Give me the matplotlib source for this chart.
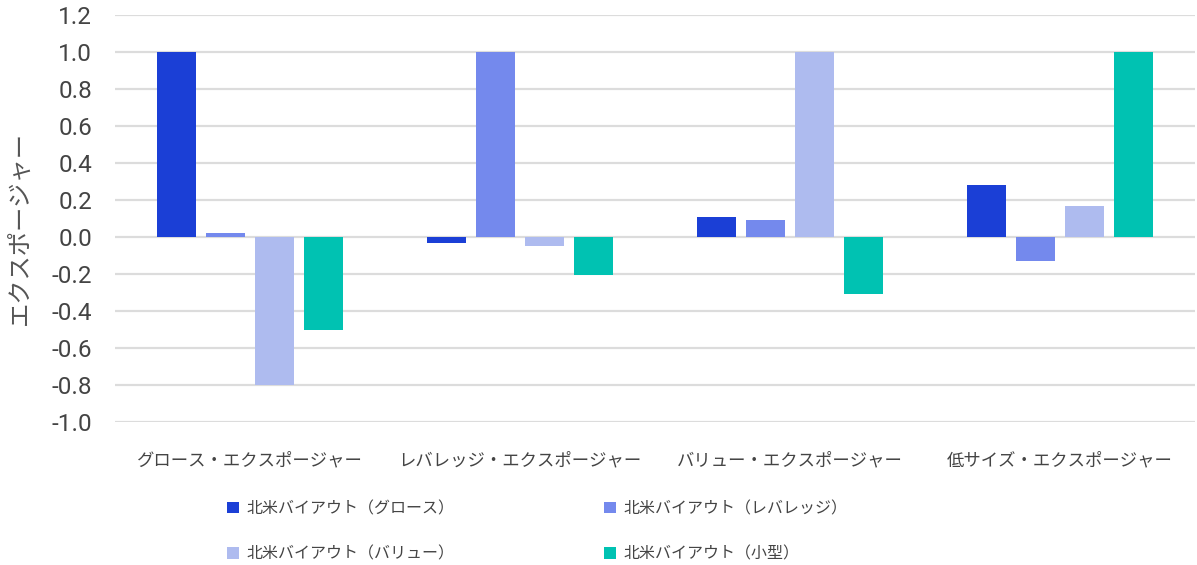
import matplotlib.pyplot as plt
import numpy as np
from matplotlib.ticker import FixedLocator

plt.rcParams['axes.unicode_minus'] = False

JP = ['Noto Sans CJK JP', 'DejaVu Sans']
NUM = ['Roboto', 'DejaVu Sans']

categories = ['グロース・エクスポージャー', 'レバレッジ・エクスポージャー',
              'バリュー・エクスポージャー', '低サイズ・エクスポージャー']
series = ['北米バイアウト（グロース）', '北米バイアウト（レバレッジ）',
          '北米バイアウト（バリュー）', '北米バイアウト（小型）']
growth = [1.0, -0.03, 0.11, 0.28]
leverage = [0.02, 1.0, 0.09, -0.13]
value = [-0.8, -0.05, 1.0, 0.165]
small = [-0.505, -0.205, -0.31, 1.0]
yticks = [1.2, 1.0, 0.8, 0.6, 0.4, 0.2, 0.0, -0.2, -0.4, -0.6, -0.8, -1.0]

colors = ['#1b3fd6', '#7489ed', '#aebbef', '#00c2b2']

fig = plt.figure(figsize=(11.97, 5.65), dpi=100)
ax = fig.add_axes([115/1197, 1 - 422/565, 1080/1197, 407/565])

x = np.arange(len(categories))
w = 0.144
step = 0.181
handles = []
for i, (vals, c) in enumerate(zip([growth, leverage, value, small], colors)):
    b = ax.bar(x + (i - 1.5) * step, vals, width=w, color=c, zorder=3)
    handles.append(b)

ax.set_xlim(-0.5, 3.5)
ax.set_ylim(-1.0, 1.2)
ax.yaxis.set_major_locator(FixedLocator(yticks))
ax.set_yticklabels(['{:.1f}'.format(t) for t in yticks], family=NUM,
                   fontsize=17.5, color='#444444')
ax.grid(axis='y', color='#dcdcdc', linewidth=1.6, zorder=0)
ax.tick_params(axis='y', length=0, pad=16.5)
ax.tick_params(axis='x', length=0, pad=21)
ax.set_xticks(x)
ax.set_xticklabels(categories, family=JP, fontsize=12.5, color='#444444')
for s in ax.spines.values():
    s.set_visible(False)

ax.set_ylabel('エクスポージャー', family=JP, fontsize=17.5, color='#555555',
              va='center')
ax.yaxis.set_label_coords(-0.088, 0.477)

order = [0, 2, 1, 3]
fig.legend([handles[k] for k in order], [series[k] for k in order],
           loc='upper left', bbox_to_anchor=(227/1197, 1 - 500/565),
           ncol=2, frameon=False, prop={'family': JP, 'size': 11.5},
           handlelength=0.75, handleheight=0.75, handletextpad=0.45,
           labelspacing=1.8, columnspacing=9.4, borderaxespad=0,
           borderpad=0, labelcolor='#444444')

fig.savefig('out.png', dpi=100)
